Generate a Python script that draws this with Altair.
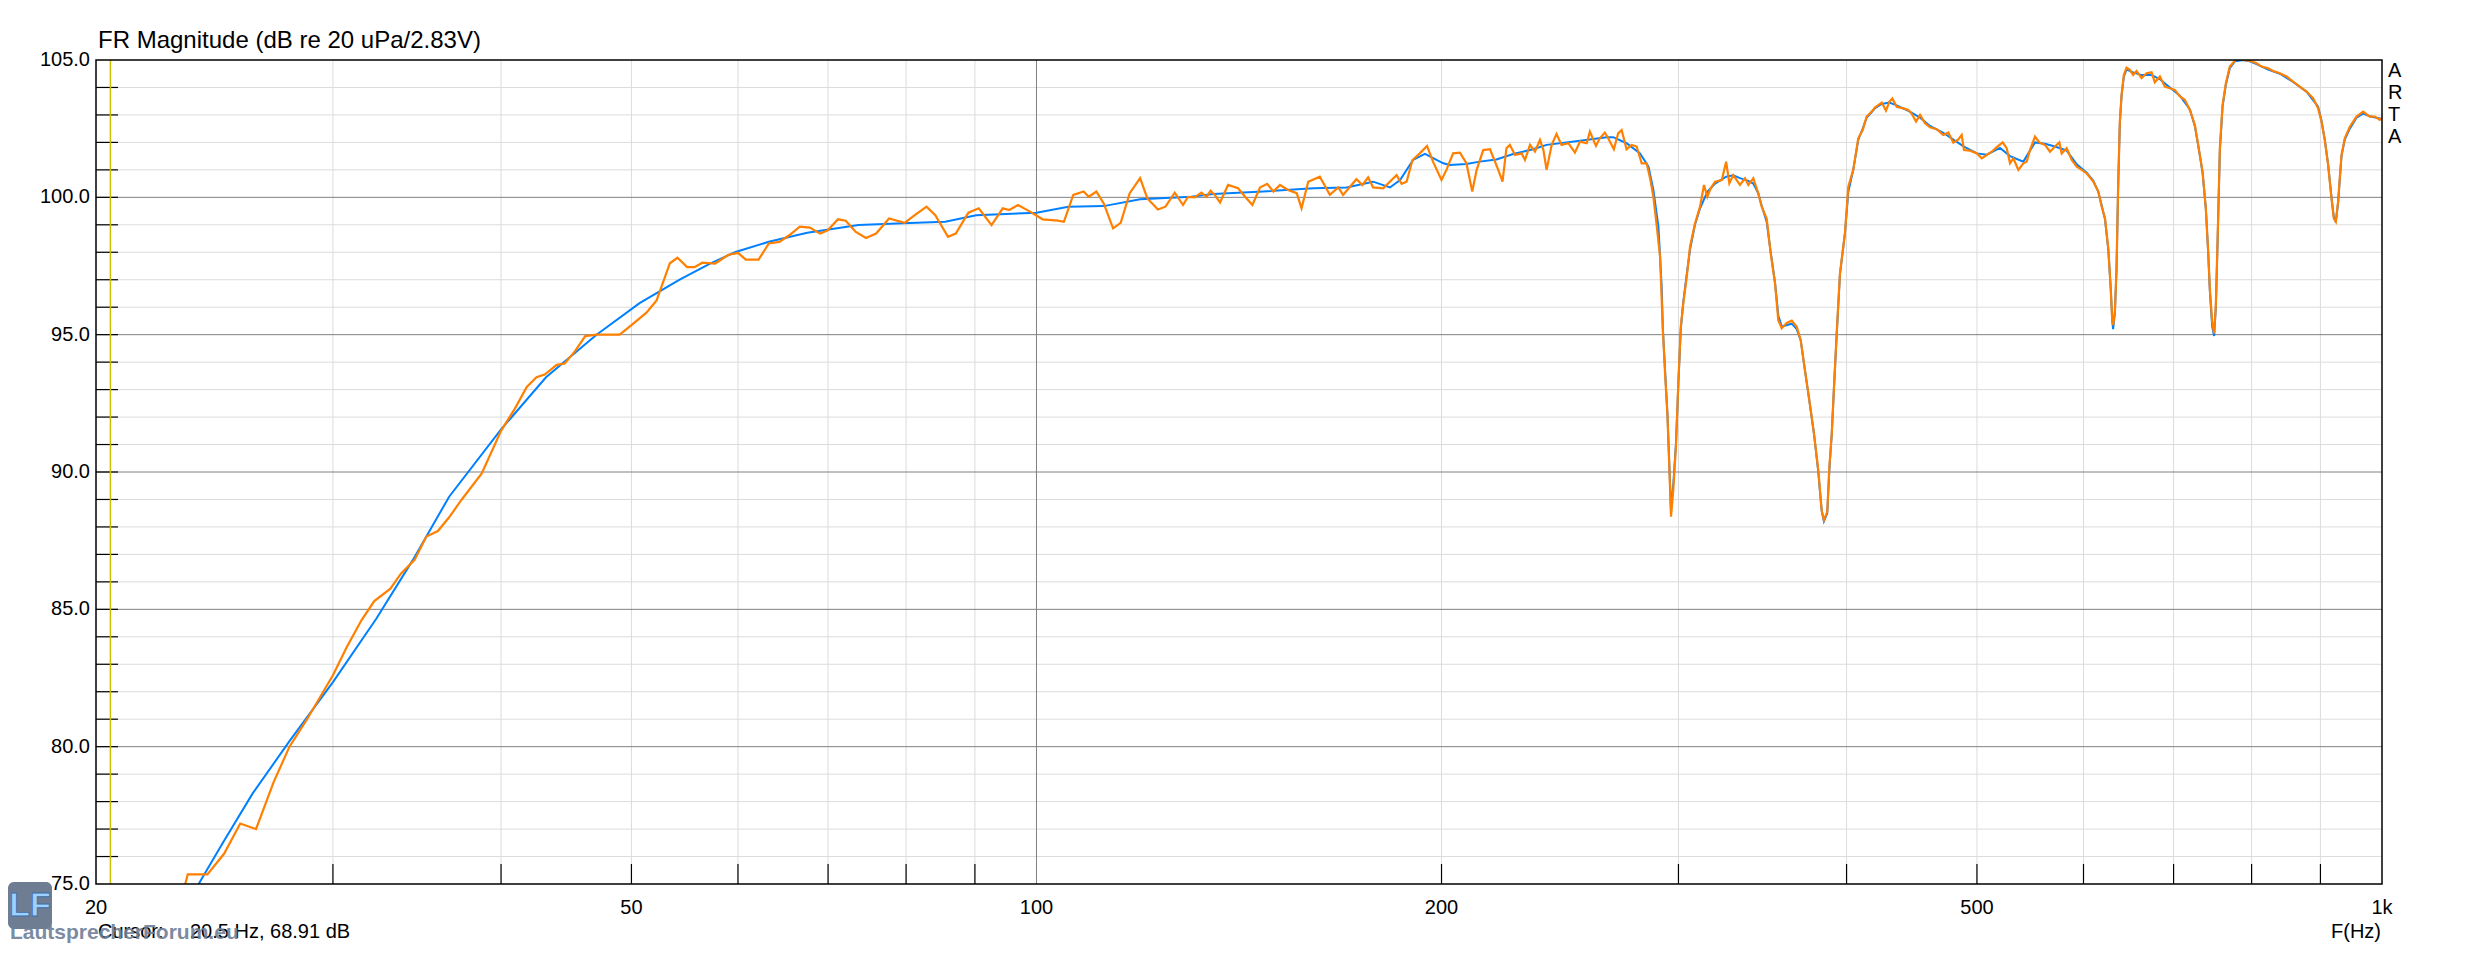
import altair as alt
import pandas as pd

# ---------------- data ----------------
orange_freq = [23.3, 23.4, 24.2, 24.9, 25.6, 26.3, 27.1, 27.85, 28.7, 30.0, 30.7, 31.5, 32.2, 33.1, 33.7,
               34.5, 35.2, 35.9, 36.6, 37.4, 38.7, 40.0, 40.95, 41.8, 42.5, 43.1, 44.0, 44.6, 45.4, 46.2,
               47.1, 49.0, 50.0, 51.3, 52.2, 53.4, 54.1, 55.0, 55.7, 56.45, 57.7, 59.0, 60.0, 60.8, 62.15,
               63.25, 64.4, 65.5, 66.7, 67.85, 69.05, 69.97, 71.2, 72.15, 73.4, 74.7, 76.0, 77.7, 79.8,
               81.2, 82.85, 84.1, 85.95, 87.1, 89.0, 90.6, 92.6, 94.4, 95.45, 96.9, 98.9, 101.05, 103.75,
               104.8, 106.5, 108.4, 109.35, 110.8, 112.2, 114.0, 115.5, 117.3, 119.4, 120.9, 123.1, 124.7,
               126.7, 128.5, 129.6, 131.1, 132.6, 133.8, 134.7, 135.7, 136.9, 138.8, 141.2, 142.9, 144.7,
               146.6, 148.4, 150.0, 151.7, 153.8, 156.1, 157.4, 159.2, 162.4, 165.2, 167.6, 169.0, 172.9,
               174.7, 176.4, 177.9, 181.0, 185.2, 186.8, 188.4, 190.3, 192.7, 195.1, 197.1, 200.0, 201.7,
               204.0, 206.4, 208.7, 210.8, 212.4, 214.8, 217.3, 220.4, 222.0, 223.5, 224.8, 226.8, 229.4,
               230.7, 232.7, 234.7, 236.7, 238.1, 239.4, 241.5, 243.5, 245.6, 248.5, 251.3, 253.5, 256.4,
               257.8, 260.5, 262.2, 264.5, 266.0, 268.6, 270.6, 272.2, 274.5, 276.9, 279.3, 281.7, 284.1,
               285.8, 287.4, 289.1, 290.7, 292.1, 293.2, 294.4, 295.4, 296.2, 297.4, 298.7, 300.0, 301.2,
               302.5, 304.3, 306.0, 308.6, 311.3, 313.4, 315.2, 317.0, 319.4, 323.1, 325.5, 327.3, 329.5,
               333.3, 336.2, 338.1, 341.0, 343.9, 345.9, 348.9, 351.3, 353.9, 355.9, 358.0, 361.1, 364.2,
               367.3, 369.8, 372.5, 375.3, 378.3, 381.1, 383.3, 384.8, 387.0, 388.4, 390.0, 391.5, 393.3,
               395.5, 398.9, 401.2, 404.6, 408.1, 411.2, 414.0, 417.6, 420.0, 422.3, 424.8, 427.9, 430.4,
               432.6, 435.8, 440.8, 444.6, 447.2, 450.5, 453.6, 457.5, 461.4, 466.7, 472.0, 476.1, 480.2,
               484.3, 487.1, 489.0, 494.1, 500.0, 504.1, 508.4, 512.8, 517.0, 522.5, 526.1, 529.1, 532.1,
               536.7, 541.3, 544.4, 547.5, 552.2, 556.3, 561.8, 566.6, 571.4, 575.7, 578.0, 583.0, 588.0,
               593.1, 598.2, 603.3, 610.2, 615.4, 619.0, 622.5, 626.0, 628.6, 630.3, 631.2, 633.1, 634.9,
               636.6, 638.5, 640.4, 642.9, 645.9, 649.5, 653.2, 657.0, 662.7, 668.4, 674.1, 677.9, 683.8,
               689.6, 695.6, 701.5, 707.6, 713.6, 719.8, 725.9, 730.1, 735.6, 739.7, 742.7, 744.8, 747.8,
               750.3, 752.5, 754.7, 757.7, 761.2, 765.5, 770.7, 777.4, 783.0, 788.5, 797.6, 806.8, 813.7,
               823.0, 830.0, 839.6, 849.3, 858.9, 868.8, 878.8, 888.8, 896.4, 901.6, 906.7, 911.9, 917.2,
               920.8, 924.0, 927.6, 933.0, 938.3, 946.4, 957.3, 968.2, 979.3, 987.7, 996.2, 1000.0]
orange_db = [75.0, 75.35, 75.35, 76.1, 77.2, 77.0, 78.7, 80.0, 81.0, 82.6, 83.6, 84.6, 85.3, 85.75, 86.3,
             86.8, 87.65, 87.85, 88.35, 89.0, 89.95, 91.5, 92.3, 93.1, 93.45, 93.55, 93.9, 93.95, 94.4, 94.95,
             95.0, 95.0, 95.35, 95.8, 96.25, 97.6, 97.8, 97.46, 97.46, 97.62, 97.59, 97.9, 97.98, 97.73, 97.73,
             98.32, 98.38, 98.62, 98.93, 98.9, 98.68, 98.8, 99.2, 99.15, 98.74, 98.52, 98.68, 99.23, 99.07,
             99.35, 99.66, 99.35, 98.56, 98.68, 99.44, 99.6, 98.99, 99.6, 99.54, 99.72, 99.48, 99.2, 99.15,
             99.11, 100.09, 100.21, 100.02, 100.21, 99.78, 98.87, 99.07, 100.15, 100.7, 99.96, 99.56, 99.66,
             100.17, 99.72, 100.02, 100.0, 100.17, 100.02, 100.24, 100.09, 99.81, 100.45, 100.33, 100.02, 99.72,
             100.36, 100.49, 100.21, 100.45, 100.27, 100.15, 99.6, 100.57, 100.75, 100.09, 100.36, 100.09, 100.66,
             100.45, 100.73, 100.36, 100.33, 100.81, 100.49, 100.57, 101.36, 101.6, 101.87, 101.3, 100.63, 101.0,
             101.6, 101.63, 101.24, 100.21, 101.0, 101.72, 101.75, 101.0, 100.57, 101.79, 101.91, 101.54, 101.6,
             101.36, 101.91, 101.67, 102.09, 101.72, 101.0, 101.91, 102.31, 101.91, 101.97, 101.63, 102.03, 101.97,
             102.39, 101.87, 102.15, 102.36, 102.15, 101.75, 102.33, 102.45, 101.75, 101.91, 101.85, 101.24, 101.24,
             100.69, 100.02, 98.93, 97.84, 95.17, 93.59, 92.07, 90.07, 88.37, 89.4, 90.92, 93.35, 95.29,
             96.14, 97.11, 98.2, 99.05, 99.66, 100.45, 100.02, 100.33, 100.57, 100.63, 101.3, 100.51, 100.81,
             100.45, 100.69, 100.45, 100.69, 100.15, 99.66, 99.23, 97.96, 96.87, 95.53, 95.23, 95.43, 95.51,
             95.29, 94.8, 93.71, 92.62, 91.4, 90.07, 88.61, 88.25, 88.55, 90.19, 91.4, 93.1, 95.05,
             97.23, 98.69, 100.39, 101.0, 102.15, 102.45, 102.94, 103.12, 103.28, 103.36, 103.45, 103.16, 103.48,
             103.6, 103.3, 103.24, 103.18, 103.04, 102.76, 103.0, 102.7, 102.55, 102.48, 102.27, 102.36, 101.99,
             102.11, 102.27, 101.72, 101.7, 101.6, 101.42, 101.54, 101.66, 101.82, 102.0, 101.79, 101.24, 101.42,
             101.0, 101.24, 101.3, 101.72, 102.21, 102.0, 101.91, 101.66, 101.85, 102.0, 101.6, 101.79, 101.36,
             101.12, 101.0, 100.87, 100.57, 100.21, 99.66, 99.23, 98.14, 96.68, 95.47, 95.35, 95.83, 97.41,
             100.33, 102.76, 103.73, 104.46, 104.72, 104.64, 104.46, 104.6, 104.34, 104.52, 104.55, 104.19, 104.4,
             104.03, 103.97, 103.91, 103.67, 103.55, 103.18, 102.64, 101.91, 100.94, 99.6, 98.02, 96.68, 95.47,
             95.05, 96.08, 98.38, 101.79, 103.36, 104.15, 104.76, 104.97, 105.1, 105.0, 104.97, 104.88, 104.76,
             104.7, 104.6, 104.52, 104.4, 104.21, 104.03, 103.85, 103.61, 103.24, 102.76, 102.09, 101.18, 99.96,
             99.23, 99.11, 99.84, 101.54, 102.15, 102.57, 102.94, 103.12, 102.94, 102.94, 102.82, 102.9]

blue_freq = [23.84, 24.85, 26.15, 27.85, 30.0, 32.3, 34.4, 36.6, 40.0, 43.2, 47.1, 50.7, 54.3, 57.2, 59.75,
             63.25, 67.55, 73.75, 80.5, 85.55, 90.2, 100.0, 105.6, 112.2, 119.4, 130.3, 135.3, 147.4, 160.6,
             170.0, 177.9, 183.1, 186.3, 190.5, 194.4, 200.6, 202.9, 208.7, 213.5, 219.7, 226.1, 233.9, 239.4,
             253.5, 265.3, 268.3, 274.5, 280.9, 285.0, 287.4, 289.9, 291.5, 292.1, 294.4, 296.2, 297.4, 298.7,
             300.0, 301.2, 302.5, 304.3, 306.0, 308.6, 311.3, 315.2, 319.4, 325.5, 329.5, 333.3, 338.1, 341.0,
             343.9, 345.9, 348.9, 351.3, 353.9, 355.9, 358.0, 364.2, 367.3, 369.8, 372.5, 375.3, 378.3, 381.1,
             383.3, 384.8, 387.0, 388.4, 390.0, 391.5, 393.3, 395.5, 398.9, 401.2, 404.6, 408.1, 411.2, 414.0,
             417.6, 420.0, 424.8, 430.4, 435.8, 444.6, 453.6, 461.4, 472.0, 480.2, 489.0, 500.0, 508.4, 520.1,
             529.1, 541.3, 552.2, 561.8, 571.4, 583.0, 593.1, 603.3, 610.2, 615.4, 619.0, 622.5, 626.0, 628.6,
             630.3, 631.2, 633.1, 634.9, 636.6, 638.5, 640.4, 642.9, 645.9, 653.2, 662.7, 674.1, 683.8, 695.6,
             707.6, 719.8, 725.9, 730.1, 735.6, 739.7, 742.7, 744.8, 747.8, 750.3, 752.5, 754.7, 757.7, 761.2,
             765.5, 770.7, 777.4, 788.5, 797.6, 806.8, 823.0, 839.6, 858.9, 878.8, 896.4, 901.6, 906.7, 911.9,
             917.2, 920.8, 924.0, 927.6, 933.0, 938.3, 946.4, 957.3, 968.2, 979.3, 1000.0]
blue_db = [75.0, 76.5, 78.3, 80.2, 82.35, 84.65, 86.8, 89.1, 91.55, 93.45, 95.0, 96.15, 97.0, 97.59, 98.01,
           98.38, 98.71, 98.99, 99.07, 99.11, 99.35, 99.44, 99.66, 99.68, 99.93, 100.02, 100.12, 100.21, 100.33,
           100.36, 100.57, 100.36, 100.63, 101.36, 101.58, 101.24, 101.18, 101.21, 101.3, 101.38, 101.58, 101.75, 101.91,
           102.06, 102.19, 102.19, 101.97, 101.6, 101.12, 100.27, 98.93, 96.75, 95.2, 92.1, 88.6, 89.6, 91.0,
           93.3, 95.2, 96.2, 97.2, 98.1, 99.0, 99.6, 100.2, 100.5, 100.75, 100.8, 100.7, 100.6, 100.5,
           100.15, 99.7, 99.1, 98.0, 96.9, 95.7, 95.3, 95.4, 95.2, 94.8, 93.7, 92.6, 91.4, 90.0,
           88.6, 88.2, 88.5, 90.1, 91.4, 93.1, 95.0, 97.2, 98.7, 100.2, 101.0, 102.1, 102.5, 102.9,
           103.1, 103.25, 103.4, 103.45, 103.35, 103.15, 102.9, 102.6, 102.35, 102.1, 101.85, 101.6, 101.55, 101.8,
           101.5, 101.3, 102.0, 101.95, 101.85, 101.7, 101.2, 100.9, 100.6, 100.2, 99.7, 99.2, 98.1, 96.7,
           95.5, 95.2, 95.8, 97.4, 100.3, 102.7, 103.7, 104.4, 104.65, 104.55, 104.45, 104.45, 104.3, 104.0,
           103.7, 103.2, 102.6, 101.9, 100.9, 99.6, 98.0, 96.6, 95.3, 94.95, 96.0, 98.3, 101.7, 103.3,
           104.1, 104.7, 104.95, 105.0, 104.95, 104.85, 104.65, 104.5, 104.2, 103.85, 103.3, 102.8, 102.1, 101.2,
           100.0, 99.3, 99.1, 99.8, 101.5, 102.1, 102.5, 102.9, 103.05, 102.95, 102.85]

# grid / tick / label values
y_minor_grid = [76, 77, 78, 79, 81, 82, 83, 84, 86, 87, 88, 89, 91, 92, 93, 94, 96, 97, 98, 99,
                101, 102, 103, 104]
y_major_grid = [80, 85, 90, 95, 100]
y_ticks = [76, 77, 78, 79, 80, 81, 82, 83, 84, 85, 86, 87, 88, 89, 90, 91, 92, 93, 94, 95, 96, 97, 98, 99,
           100, 101, 102, 103, 104]
y_labels = [75, 80, 85, 90, 95, 100, 105]
y_label_text = ["75.0", "80.0", "85.0", "90.0", "95.0", "100.0", "105.0"]
x_minor_grid = [30, 40, 50, 60, 70, 80, 90, 200, 300, 400, 500, 600, 700, 800, 900]
x_major_grid = [100]
x_ticks = [30, 40, 50, 60, 70, 80, 90, 200, 300, 400, 500, 600, 700, 800, 900]
x_labels = [20, 50, 100, 200, 500, 1000]
x_label_text = ["20", "50", "100", "200", "500", "1k"]
cursor_freq = [20.5]

title_text = "FR Magnitude (dB re 20 uPa/2.83V)"
cursor_label = "Cursor:"
cursor_value = "20.5 Hz, 68.91 dB"
x_title = "F(Hz)"
side_letters = ["A", "R", "T", "A"]

# ---------------- chart ----------------
W, H = 2286, 824
FONT = "Liberation Sans"

xs = alt.Scale(type="log", domain=[20, 1000], nice=False)
ys = alt.Scale(domain=[75, 105], nice=False, zero=False)

orange_df = pd.DataFrame({"f": orange_freq, "db": orange_db})
blue_df = pd.DataFrame({"f": blue_freq, "db": blue_db})
one = pd.DataFrame({"k": [0]})


def hrules(vals, color):
    return alt.Chart(pd.DataFrame({"db": vals})).mark_rule(color=color, strokeWidth=1).encode(
        y=alt.Y("db:Q", scale=ys, axis=None))


def vrules(vals, color):
    return alt.Chart(pd.DataFrame({"f": vals})).mark_rule(color=color, strokeWidth=1).encode(
        x=alt.X("f:Q", scale=xs, axis=None))


h_minor = hrules(y_minor_grid, "#dcdcdc")
v_minor = vrules(x_minor_grid, "#dcdcdc")
h_major = hrules(y_major_grid, "#808080")
v_major = vrules(x_major_grid, "#808080")

left_ticks = alt.Chart(pd.DataFrame({"db": y_ticks})).mark_rule(color="black", strokeWidth=1.2).encode(
    y=alt.Y("db:Q", scale=ys, axis=None), x=alt.value(0), x2=alt.value(22))
bottom_ticks = alt.Chart(pd.DataFrame({"f": x_ticks})).mark_rule(color="black", strokeWidth=1.2).encode(
    x=alt.X("f:Q", scale=xs, axis=None), y=alt.value(H - 20), y2=alt.value(H))

cursor = alt.Chart(pd.DataFrame({"f": cursor_freq})).mark_rule(color="#c8c000", strokeWidth=1.5).encode(
    x=alt.X("f:Q", scale=xs, axis=None))

blue = alt.Chart(blue_df).mark_line(color="#0080ff", strokeWidth=2, clip=True).encode(
    x=alt.X("f:Q", scale=xs, axis=None), y=alt.Y("db:Q", scale=ys, axis=None), order="f:Q")
orange = alt.Chart(orange_df).mark_line(color="#ff8000", strokeWidth=2.2, clip=True).encode(
    x=alt.X("f:Q", scale=xs, axis=None), y=alt.Y("db:Q", scale=ys, axis=None), order="f:Q")

x_lab = alt.Chart(pd.DataFrame({"f": x_labels, "t": x_label_text})).mark_text(
    align="center", baseline="top", fontSize=20, font=FONT, color="black").encode(
    x=alt.X("f:Q", scale=xs, axis=None), y=alt.value(H + 14), text="t:N")
y_lab = alt.Chart(pd.DataFrame({"db": y_labels, "t": y_label_text})).mark_text(
    align="right", baseline="middle", fontSize=20, font=FONT, color="black").encode(
    y=alt.Y("db:Q", scale=ys, axis=None), x=alt.value(-6), text="t:N")

frame = alt.Chart(one).mark_rect(fill=None, stroke="black", strokeWidth=1.5).encode(
    x=alt.value(0), x2=alt.value(W), y=alt.value(0), y2=alt.value(H))


def label(txt, x, y, align="left", size=20, **kw):
    return alt.Chart(one).mark_text(align=align, baseline="middle", fontSize=size, font=FONT,
                                    **kw).encode(x=alt.value(x), y=alt.value(y), text=alt.value(txt))


title = alt.Chart(one).mark_text(align="left", baseline="alphabetic", fontSize=24, font=FONT,
                                 color="black").encode(
    x=alt.value(2), y=alt.value(-12), text=alt.value(title_text))
cur1 = label(cursor_label, 2, 872, color="black")
cur2 = label(cursor_value, 94, 872, color="black")
xtitle = label(x_title, W - 1, 872, align="right", color="black")

arta_layers = [label(ch, W + 6, 11 + 22 * i, size=20, color="black") for i, ch in enumerate(side_letters)]

logo_box = alt.Chart(one).mark_rect(fill="#6e7d92", cornerRadius=6).encode(
    x=alt.value(-88), x2=alt.value(-44), y=alt.value(822), y2=alt.value(869))
logo_txt = label("LF", -66, 846, align="center", size=34, fontWeight="bold", color="#9fd0ff",
                 stroke="#3b6fa8", strokeWidth=0.8)
watermark = label("LautsprecherForum.eu", -86, 873, size=21, fontWeight="bold", color="#6e7f97",
                  opacity=0.9)

chart = alt.layer(
    h_minor, v_minor, h_major, v_major, left_ticks, bottom_ticks, cursor,
    blue, orange, frame, x_lab, y_lab, title, cur1, cur2, xtitle, *arta_layers,
    logo_box, logo_txt, watermark
).properties(
    width=W, height=H,
    autosize=alt.AutoSizeParams(type="none"),
    padding={"left": 88, "top": 52, "right": 60, "bottom": 59},
    background="white",
).configure_view(stroke=None)

chart.save("out.html", embed_options={"renderer": "svg", "actions": False})
